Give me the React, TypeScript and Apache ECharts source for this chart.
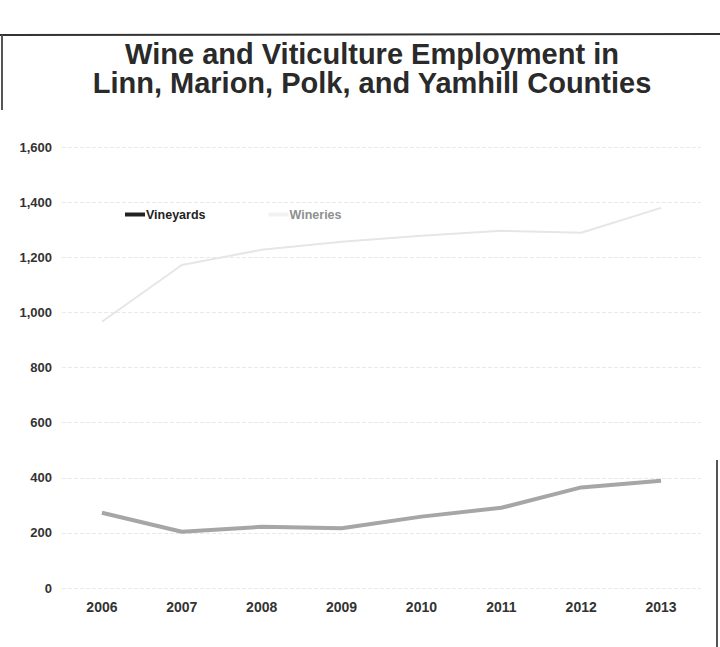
import React, { useEffect, useRef } from "react";
import * as echarts from "echarts";

const years = ["2006", "2007", "2008", "2009", "2010", "2011", "2012", "2013"];
const vineyards = [273, 204, 222, 217, 259, 291, 365, 389];
const wineries = [966, 1172, 1227, 1256, 1278, 1296, 1289, 1379];
const titleLines = ["Wine and Viticulture Employment in", "Linn, Marion, Polk, and Yamhill Counties"];

export default function App() {
  const ref = useRef<HTMLDivElement>(null);
  useEffect(() => {
    if (!ref.current) return;
    const chart = echarts.init(ref.current, null, { renderer: "svg" });
    chart.setOption({
      animation: false,
      backgroundColor: "#ffffff",
      title: {
        text: titleLines.join("\n"),
        left: 367,
        textAlign: "center",
        top: 34,
        textStyle: {
          fontFamily: "Liberation Sans, Arial, sans-serif",
          fontWeight: "bold",
          fontSize: 29,
          lineHeight: 29,
          color: "#2a2a2a",
        },
      },
      legend: {
        left: 120,
        top: 203,
        itemWidth: 20,
        itemHeight: 4,
        itemGap: 63,
        icon: "rect",
        data: [
          {
            name: "Vineyards",
            itemStyle: { color: "#222222" },
            textStyle: { color: "#222222", fontWeight: "bold" },
          },
          {
            name: "Wineries",
            itemStyle: { color: "#f2f2f2" },
            textStyle: { color: "#8f8f8f", fontWeight: "bold" },
          },
        ],
        textStyle: {
          fontFamily: "Liberation Sans, Arial, sans-serif",
          fontSize: 12.5,
          padding: [0, 0, 0, -4],
        },
      },
      grid: { left: 62, right: 19, top: 147, bottom: 59, containLabel: false },
      xAxis: {
        type: "category",
        data: years,
        boundaryGap: true,
        axisLine: { show: false },
        axisTick: { show: false },
        axisLabel: {
          margin: 12,
          fontFamily: "Liberation Sans, Arial, sans-serif",
          fontWeight: "bold",
          fontSize: 14,
          color: "#333333",
        },
      },
      yAxis: {
        type: "value",
        min: 0,
        max: 1600,
        interval: 200,
        axisLine: { show: false },
        axisTick: { show: false },
        splitLine: { lineStyle: { color: "#e9e9e9", type: "dashed", width: 1 } },
        axisLabel: {
          margin: 10,
          formatter: (v: number) => v.toLocaleString("en-US"),
          fontFamily: "Liberation Sans, Arial, sans-serif",
          fontWeight: "bold",
          fontSize: 13,
          color: "#333333",
        },
      },
      series: [
        {
          name: "Vineyards",
          type: "line",
          data: vineyards,
          symbol: "none",
          lineStyle: { color: "#a6a6a6", width: 4 },
          itemStyle: { color: "#a6a6a6" },
          z: 3,
        },
        {
          name: "Wineries",
          type: "line",
          data: wineries,
          symbol: "none",
          lineStyle: { color: "#e6e6e6", width: 2 },
          itemStyle: { color: "#e6e6e6" },
          z: 2,
        },
      ],
      graphic: [
        { type: "line", shape: { x1: 0, y1: 35, x2: 720, y2: 34 }, style: { stroke: "#333333", lineWidth: 2 } },
        { type: "line", shape: { x1: 2, y1: 35, x2: 2, y2: 110 }, style: { stroke: "#555555", lineWidth: 2 } },
        { type: "line", shape: { x1: 717, y1: 460, x2: 717, y2: 647 }, style: { stroke: "#555555", lineWidth: 2 } },
      ],
    });
    return () => chart.dispose();
  }, []);
  return (
    <div
      ref={ref}
      style={{ position: "fixed", left: 0, top: 0, width: 720, height: 647 }}
    />
  );
}
